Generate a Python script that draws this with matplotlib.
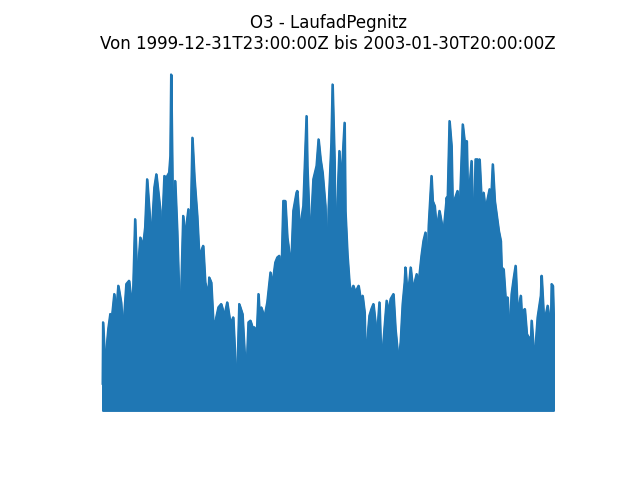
import numpy as np
import pandas as pd
import matplotlib
matplotlib.use("Agg")
import matplotlib.pyplot as plt

station = "LaufadPegnitz"
pollutant = "O3"
start_str = "1999-12-31T23:00:00Z"
end_str = "2003-01-30T20:00:00Z"

# Envelope of the hourly O3 series:
# days since start, and the peak concentration around that day
days = [0, 1, 6, 14, 19, 21, 29, 34, 39, 46, 51, 59, 66, 71, 76, 81, 86, 94, 101, 106, 111, 119, 124, 129, 134, 144, 146, 154, 159, 166, 169, 171, 176, 181, 186,
        191, 196, 201, 206, 214, 216, 219, 224, 229, 236, 241, 251, 256, 264, 266, 271, 276, 281, 289, 296, 304, 311, 319, 326, 334, 336, 341, 349, 354, 359, 364, 369, 374, 379,
        384, 389, 394, 396, 404, 411, 416, 419, 424, 431, 436, 441, 446, 451, 456, 461, 466, 471, 476, 484, 486, 491, 496, 501, 509, 511, 516, 521, 526, 534, 539, 544, 549, 556, 561, 564, 571, 574,
        579, 581, 586, 591, 594, 599, 604, 606, 611, 616, 619, 626, 631, 639, 644, 649, 654, 656, 661, 666, 671, 676, 681, 684, 691, 696, 704, 709, 714, 719, 726, 731, 739, 744, 749, 754, 756, 761, 766,
        769, 774, 779, 784, 789, 796, 801, 806, 811, 814, 821, 824, 829, 834, 841, 849, 851, 859, 861, 866, 871, 874, 879, 886, 889, 899, 904, 909, 911, 916, 921, 926, 931, 936, 939, 941, 946, 951, 956, 961, 966,
        971, 974, 979, 984, 989, 994, 996, 1001, 1006, 1011, 1016, 1021, 1026, 1031, 1036, 1044, 1046, 1054, 1059, 1064, 1069, 1071, 1076, 1081, 1086, 1094, 1096, 1101, 1106, 1111, 1119, 1121, 1124, 1125.875]

peak_o3 = [16, 53, 27, 49, 58, 51, 70, 59, 75, 65, 47, 76, 78, 67, 71, 115, 77, 104, 99, 110, 139, 112, 113, 134, 142, 120, 94, 141, 140, 143, 153, 202, 101, 138, 108,
           68, 71, 117, 105, 121, 85, 100, 164, 140, 117, 93, 99, 77, 70, 80, 77, 54, 53, 62, 64, 57, 65, 52, 56, 16, 19, 64, 58, 36, 22, 53, 54, 50, 50,
           41, 70, 47, 62, 56, 65, 76, 83, 76, 89, 92, 93, 78, 126, 126, 104, 95, 89, 120, 131, 132, 112, 115, 123, 177, 147, 115, 115, 139, 147, 163, 151, 143, 123, 83, 121, 161, 196,
           149, 87, 125, 156, 137, 151, 173, 120, 94, 77, 71, 75, 71, 75, 67, 69, 59, 35, 43, 57, 61, 64, 53, 41, 65, 26, 51, 66, 59, 67, 70, 49, 29, 41, 64, 77, 86, 69, 78,
           86, 74, 77, 82, 77, 93, 102, 107, 81, 111, 141, 126, 123, 109, 120, 109, 107, 128, 123, 174, 159, 120, 127, 132, 103, 172, 161, 162, 139, 134, 150, 101, 151, 151, 120, 151, 126, 131, 120, 127, 133,
           132, 148, 126, 117, 108, 102, 86, 85, 67, 68, 44, 70, 79, 87, 59, 69, 59, 61, 46, 44, 40, 54, 37, 39, 56, 69, 81, 58, 57, 63, 48, 76, 75, 58]

night_min = 0.0

assert len(days) == len(peak_o3)

t0 = pd.Timestamp(start_str.replace("Z", ""))
times = t0 + pd.to_timedelta(np.array(days, dtype=float), unit="D")
peaks = np.array(peak_o3, dtype=float)

color = "#1f77b4"
fig, ax = plt.subplots(figsize=(6.4, 4.8), dpi=100)
ax.fill_between(times, night_min, peaks, color=color, linewidth=1.5, edgecolor=color)
ax.plot(times, peaks, color=color, linewidth=1.5)
ax.set_title(f"{pollutant} - {station}\nVon {start_str} bis {end_str}")
ax.axis("off")
fig.savefig("out.png", dpi=100)
